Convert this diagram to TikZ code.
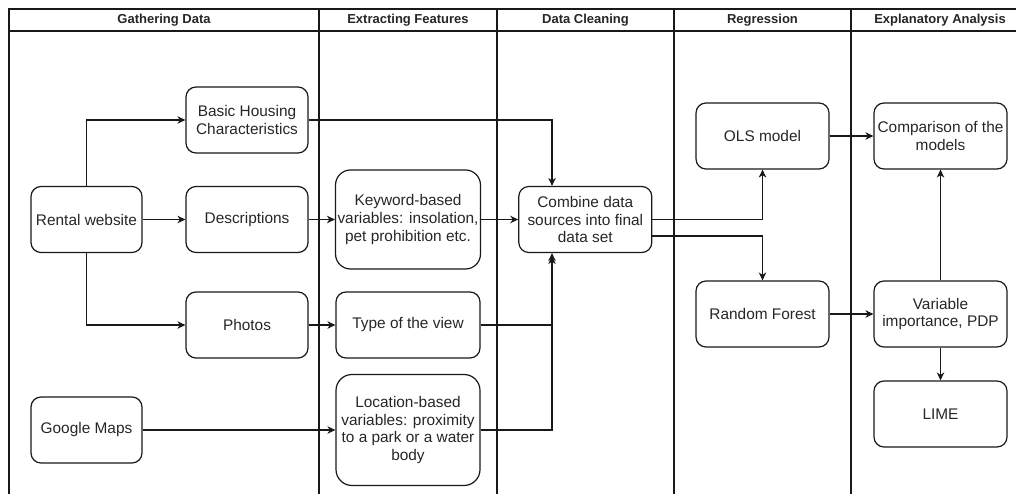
\documentclass[tikz,border=0pt]{standalone}
\usepackage{fontspec}
\setmainfont{Liberation Sans}
\usetikzlibrary{arrows.meta}
\begin{document}
\begin{tikzpicture}[x=1pt,y=-1pt,
 lane/.style={line width=1.2pt, draw=black!90},
 box/.style={draw=black!90, line width=1.2pt, align=center, inner sep=2pt, rounded corners=10pt,
   font=\fontsize{15.4}{17.6}\selectfont, text=black!85},
 conn/.style={draw=black!90, line width=1.2pt, -{Stealth[length=8pt,width=7.5pt,inset=2.5pt]}},
 hdr/.style={font=\bfseries\fontsize{13}{15}\selectfont, text=black!85}
]
\useasboundingbox (0,0) rectangle (1016,494);
% swimlanes
\draw[lane] (9,494) -- (9,9) -- (1030,9);
\draw[lane] (9,31) -- (1030,31);
\foreach \x in {319,497,674,851} \draw[lane] (\x,9) -- (\x,494);
\node[hdr] (h1) at (164,20) {Gathering Data};
\node[hdr] (h2) at (408,20) {Extracting Features};
\node[hdr] (h3) at (585.5,20) {Data Cleaning};
\node[hdr] (h4) at (762.5,20) {Regression};
\node[hdr] (h5) at (940,20) {Explanatory Analysis};
% nodes
\node[box, minimum width=111pt, minimum height=66pt] (rent) at (86.5,219.5) {Rental website};
\node[box, minimum width=111pt, minimum height=66pt] (gmaps) at (86.5,430) {Google Maps};
\node[box, minimum width=122pt, minimum height=66pt] (basic) at (247,120) {Basic Housing\\Characteristics};
\node[box, minimum width=122pt, minimum height=66pt] (desc) at (247,219.5) {Descriptions};
\node[box, minimum width=122pt, minimum height=66pt] (photos) at (247,325) {Photos};
\node[box, minimum width=144pt, minimum height=99pt, rounded corners=15pt] (kw) at (408,219.5) {Keyword-based\\variables: insolation,\\pet prohibition etc.};
\node[box, minimum width=144pt, minimum height=66pt] (view) at (408,325) {Type of the view};
\node[box, minimum width=144pt, minimum height=111pt, rounded corners=16pt] (loc) at (408,430) {Location-based\\variables: proximity\\to a park or a water\\body};
\node[box, minimum width=133pt, minimum height=66pt] (comb) at (585.3,219.5) {Combine data\\sources into final\\data set};
\node[box, minimum width=133pt, minimum height=66pt] (ols) at (762.5,136) {OLS model};
\node[box, minimum width=133pt, minimum height=66pt] (rf) at (762.5,314) {Random Forest};
\node[box, minimum width=133pt, minimum height=66pt] (comp) at (940.5,136) {Comparison of the\\models};
\node[box, minimum width=133pt, minimum height=66pt] (vimp) at (940.5,314) {Variable\\importance, PDP};
\node[box, minimum width=133pt, minimum height=66pt] (lime) at (940.5,414) {LIME};
% connectors
\draw[conn] (rent.north) |- (basic.west);
\draw[conn] (rent.east) -- (desc.west);
\draw[conn] (rent.south) |- (photos.west);
\draw[conn] (desc.east) -- (kw.west);
\draw[conn] (photos.east) -- (view.west);
\draw[conn] (gmaps.east) -- (loc.west);
\draw[conn] (basic.east) -| ([xshift=-33.3pt]comb.north);
\draw[conn] (kw.east) -- (comb.west);
\draw[conn] (view.east) -| ([xshift=-33.3pt]comb.south);
\draw[conn, shorten >=3pt] (loc.east) -| ([xshift=-33.3pt]comb.south);
\draw[conn] (comb.east) -| (ols.south);
\draw[conn] ([yshift=-16.5pt]comb.east) -| (rf.north);
\draw[conn] (ols.east) -- (comp.west);
\draw[conn] (rf.east) -- (vimp.west);
\draw[conn] (vimp.north) -- (comp.south);
\draw[conn] (vimp.south) -- (lime.north);
\end{tikzpicture}
\end{document}
